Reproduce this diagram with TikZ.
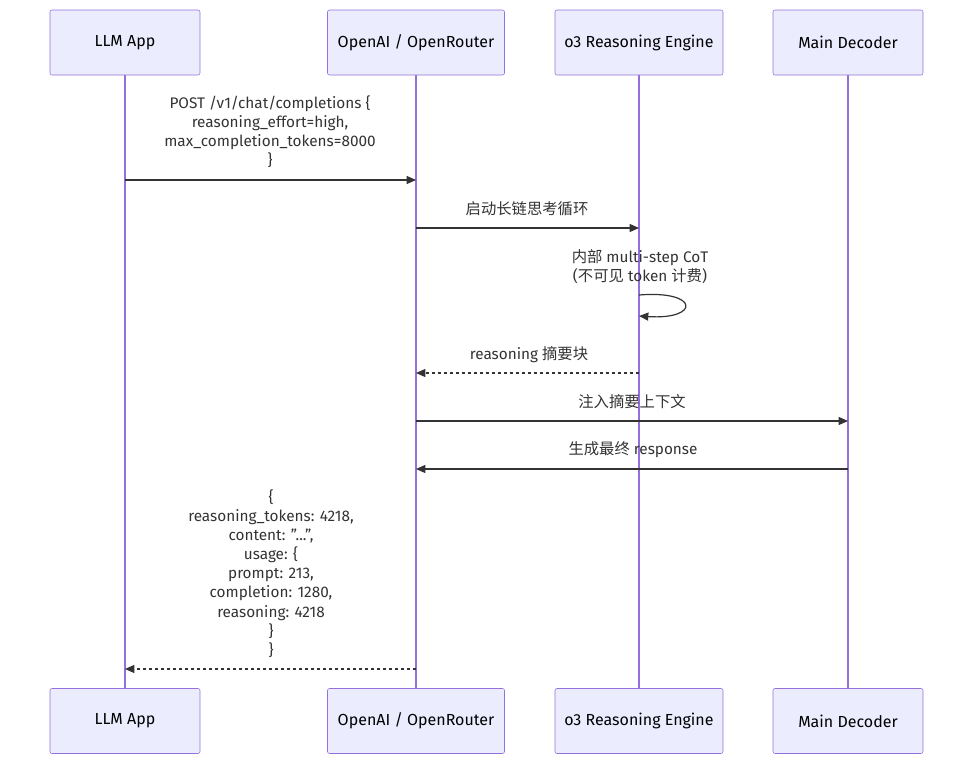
\documentclass[tikz,border=0pt]{standalone}
\usepackage{fontspec}
\setmainfont{Fira Sans}
\newfontfamily\cjk{Noto Sans CJK SC}
\usetikzlibrary{positioning,arrows.meta}
\definecolor{actfill}{HTML}{ECECFF}
\definecolor{actline}{HTML}{9370DB}
\definecolor{msgline}{HTML}{333333}
\tikzset{
  actor/.style={draw=actline, fill=actfill, rounded corners=1.5pt, minimum height=48.75pt, inner sep=0pt, font=\fontsize{12}{14}\selectfont},
  life/.style={draw=actline, line width=1.1pt},
  msg/.style={draw=msgline, line width=0.9pt, -{Triangle[length=7pt,width=6pt]}},
  reply/.style={msg, dash pattern=on 2.5pt off 2pt},
  lbl/.style={font=\fontsize{11.5}{14.3}\selectfont, align=center, text=msgline, inner sep=0pt}
}
\begin{document}
\begin{tikzpicture}[x=0.75pt, y=-0.75pt]
    \useasboundingbox (0,0) rectangle (974,765);
    % participants
    \node[actor, minimum width=112.5pt] (app) at (125, 42.5) {LLM App};
    \node[actor, minimum width=132.75pt] (api) at (416, 42.5) {OpenAI / OpenRouter};
    \node[actor, minimum width=126pt] (eng) at (639, 42.5) {o3 Reasoning Engine};
    \node[actor, minimum width=112.5pt] (dec) at (848, 42.5) {Main Decoder};
    \node[actor, minimum width=112.5pt] (app2) at (125, 721) {LLM App};
    \node[actor, minimum width=132.75pt] (api2) at (416, 721) {OpenAI / OpenRouter};
    \node[actor, minimum width=126pt] (eng2) at (639, 721) {o3 Reasoning Engine};
    \node[actor, minimum width=112.5pt] (dec2) at (848, 721) {Main Decoder};
    \draw[life] (app) -- (app2);
    \draw[life] (api) -- (api2);
    \draw[life] (eng) -- (eng2);
    \draw[life] (dec) -- (dec2);

    % message 1
    \coordinate (m1a) at (125, 180);
    \coordinate (m1b) at (416, 180);
    \node[lbl] (t1) at (270, 132) {POST /v1/chat/completions \{\\reasoning\_effort=high,\\max\_completion\_tokens=8000\\\}};
    \draw[msg] (m1a) -- (m1b);

    % message 2
    \coordinate (m2a) at (416, 228);
    \coordinate (m2b) at (639, 228);
    \node[lbl] (t2) at (527, 209) {\cjk 启动长链思考循环};
    \draw[msg] (m2a) -- (m2b);

    % self loop
    \coordinate (m3a) at (639, 295);
    \coordinate (m3b) at (639, 316);
    \node[lbl] (t3) at (640, 267) {{\cjk 内部} multi-step CoT\\({\cjk 不可见} token {\cjk 计费})};
    \draw[msg] (m3a) .. controls (700, 290) and (700, 320) .. (m3b);

    % message 4
    \coordinate (m4a) at (639, 373);
    \coordinate (m4b) at (416, 373);
    \node[lbl] (t4) at (529, 355) {reasoning {\cjk 摘要块}};
    \draw[reply] (m4a) -- (m4b);

    % message 5
    \coordinate (m5a) at (416, 421);
    \coordinate (m5b) at (848, 421);
    \node[lbl] (t5) at (632, 402) {\cjk 注入摘要上下文};
    \draw[msg] (m5a) -- (m5b);

    % message 6
    \coordinate (m6a) at (848, 469);
    \coordinate (m6b) at (416, 469);
    \node[lbl] (t6) at (633, 450) {{\cjk 生成最终} response};
    \draw[msg] (m6a) -- (m6b);

    % message 7
    \coordinate (m7a) at (416, 669);
    \coordinate (m7b) at (125, 669);
    \node[lbl] (t7) at (271, 573.5) {\{\\reasoning\_tokens: 4218,\\content: "...",\\usage: \{\\prompt: 213,\\completion: 1280,\\reasoning: 4218\\\}\\\}};
    \draw[reply] (m7a) -- (m7b);
\end{tikzpicture}
\end{document}
